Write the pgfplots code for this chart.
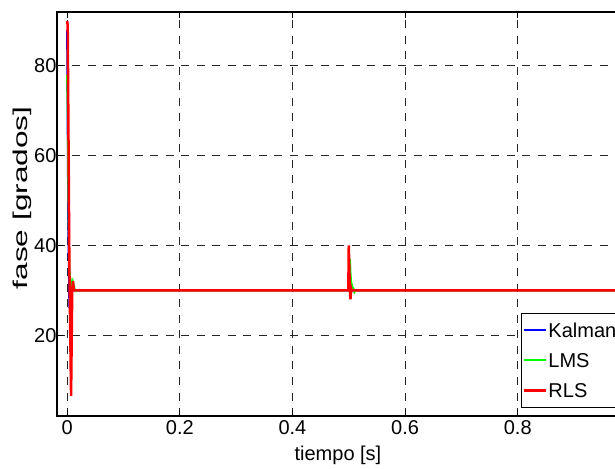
\documentclass[border=0pt]{standalone}
\usepackage{fontspec}
\setmainfont{Liberation Sans}
\usepackage{pgfplots}
\pgfplotsset{compat=1.18}
\begin{document}
\begin{tikzpicture}
\useasboundingbox (-57pt,-52pt) rectangle (558pt,416pt);
\begin{axis}[
  at={(0pt,0pt)}, anchor=south west,
  scale only axis,
  width=573.4pt, height=404pt,
  xmin=-0.018, xmax=1, ymin=2, ymax=92,
  xtick={0,0.2,0.4,0.6,0.8,1},
  ytick={20,40,60,80},
  xticklabels={0,0.2,0.4,0.6,0.8,1},
  yticklabels={20,40,60,80},
  tick align=inside,
  major tick length=6pt,
  tick style={black, line width=0.8pt},
  axis line style={black, line width=1.4pt},
  grid=major,
  major grid style={black!85, line width=0.8pt, dash pattern=on 8pt off 7.5pt},
  font=\fontsize{20}{24}\selectfont,
  /pgf/number format/assume math mode=true,
  yticklabel style={xshift=3pt},
  xticklabel style={yshift=-1pt},
  xlabel={tiempo [s]},
  ylabel={fase [grados]},
  xlabel style={at={(axis description cs:0.49,0)}, anchor=center, yshift=-39pt},
  ylabel style={at={(axis description cs:-0.061,0.54)}, anchor=center,
    font=\fontsize{20}{24}\selectfont, xscale=1.58},
  legend style={at={(axis description cs:0.810,0.0198)}, anchor=south west,
    draw=black, line width=1pt, fill=white, inner xsep=1pt, inner ysep=2pt, row sep=0pt,
    font=\fontsize{20}{24}\selectfont,
    nodes={inner xsep=1pt, inner ysep=7.5pt, text height=15pt, text depth=0pt}},
  legend cell align=left,
  legend image code/.code={\draw[#1] (0pt,0pt) -- (22pt,0pt);},
]
\addplot[blue, line width=2pt] coordinates {
(0,88) (0.002,45) (0.004,26) (0.006,29) (0.008,30.5) (0.010,30)
(0.4995,30) (0.501,32.5) (0.503,28.3) (0.505,30.2) (0.507,30) (1,30)};
\addlegendentry{Kalman}
\addplot[green, line width=2pt] coordinates {
(0,78) (0.001,70) (0.002,55) (0.003,42) (0.004,35) (0.005,33) (0.006,32.5)
(0.008,31) (0.010,32) (0.012,31) (0.014,30) (0.016,29.8) (0.018,30)
(0.4995,30) (0.5005,30) (0.502,37) (0.503,34) (0.504,32) (0.506,30.8)
(0.508,30.5) (0.510,29.6) (0.512,30) (1,30)};
\addlegendentry{LMS}
\addplot[red, line width=2.5pt] coordinates {
(0,90) (0.001,89) (0.004,35) (0.007,6.5) (0.009,30) (0.0105,32) (0.012,30)
(0.4992,30) (0.5,40) (0.502,30) (0.503,28) (0.504,30.5) (0.505,30) (1,30)};
\addlegendentry{RLS}
\end{axis}
\end{tikzpicture}
\end{document}
